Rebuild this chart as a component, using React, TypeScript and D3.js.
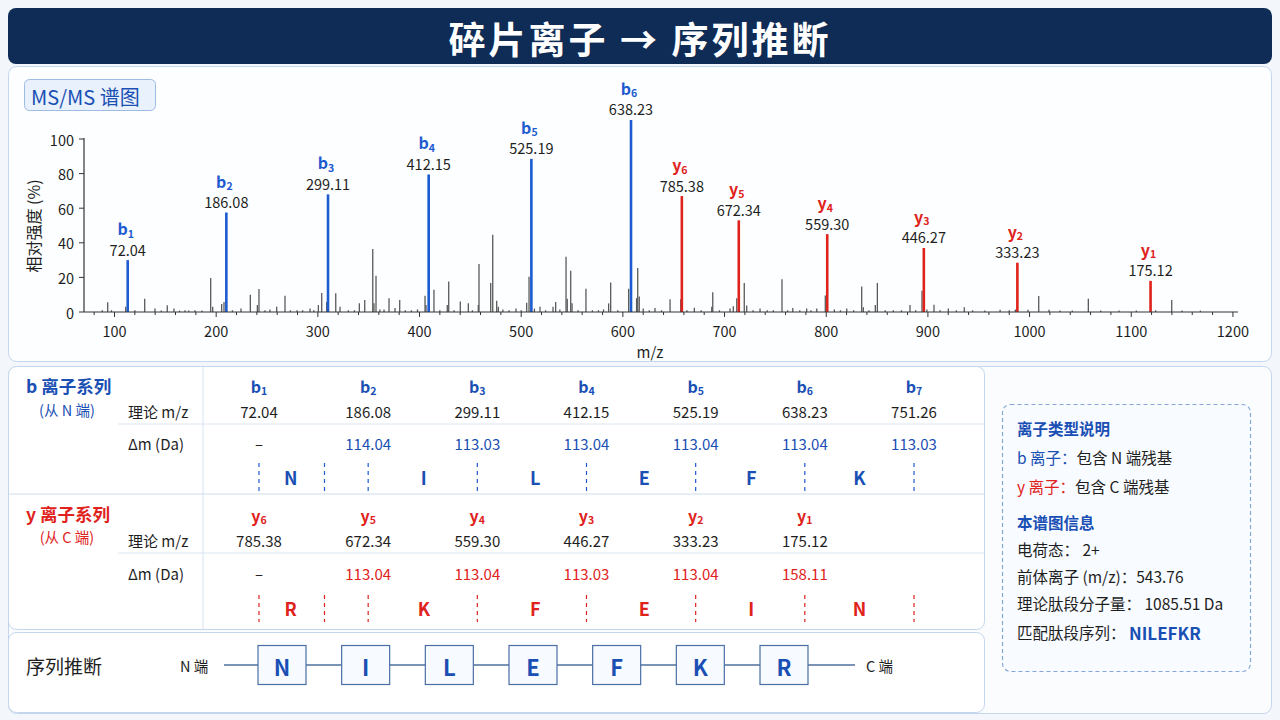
import React from 'react';
import * as d3 from 'd3';

// spectrum: labelled b / y peaks (drawn position, intensity, label)
const bSubs = [1, 2, 3, 4, 5, 6];
const bPeakLabels = ['72.04', '186.08', '299.11', '412.15', '525.19', '638.23'];
const bPeakMz = [113, 210, 310, 409, 510, 608];
const bPeakInt = [30, 57.5, 68, 79.5, 88.5, 111];

const ySubs = [6, 5, 4, 3, 2, 1];
const yPeakLabels = ['785.38', '672.34', '559.30', '446.27', '333.23', '175.12'];
const yPeakMz = [658, 714, 801, 896, 988, 1119];
const yPeakInt = [67, 53, 45, 37, 28.5, 18];

// background (unassigned) peaks [m/z, intensity]
const noisePeaks: [number, number][] = [
  [88, 1], [93.3, 5.6], [97, 1], [111, 3], [120, 1], [129.7, 7.7], [139.8, 2], [146, 0.8],
  [151.9, 3.9], [158.5, 2], [164, 0.8], [169.3, 1], [173, 0.8], [179.2, 1], [186, 0.8],
  [194.6, 19.7], [196.6, 3], [205.4, 4.6], [207.7, 5.8], [216, 1], [224.4, 2], [233.6, 10],
  [240.5, 4], [242.1, 13.3], [248, 1], [252.9, 1.5], [259.5, 3], [267.7, 9.4], [273, 1],
  [279.5, 1], [285, 1], [292.3, 2], [296, 1], [300.5, 4], [303.8, 11], [308.7, 5.8],
  [317.6, 10.8], [321.8, 3], [330, 1], [336, 1], [340.8, 5], [346.1, 7], [354, 36.4],
  [355.2, 5], [357.2, 21], [361, 1.5], [365.1, 1.5], [370, 8], [375.9, 2.3], [380.5, 7],
  [386, 1], [392, 1], [398, 1.5], [405.4, 9.4], [406.4, 4], [414.2, 12.9], [420, 1],
  [427.3, 4], [428.7, 17.7], [434, 1], [440.1, 6], [448, 5], [452, 1], [457.8, 4],
  [458.5, 27.7], [470, 16.8], [472, 44.7], [475.9, 6.5], [477.5, 3], [482, 1.5], [488, 1],
  [494.9, 2], [500, 1], [505.4, 5.4], [507.7, 20.4], [513, 2], [518.5, 3], [524, 1],
  [531.3, 3], [533.9, 5.8], [538, 1.5], [544.1, 32], [545.3, 7.7], [548.7, 23.9], [550, 5],
  [556, 1], [563.7, 13.5], [570, 1], [576, 1], [581, 1.5], [586, 5], [588, 17], [595, 1],
  [605.7, 13.5], [613.5, 8], [614.6, 25.4], [616.1, 9], [620, 2], [626, 1], [631.6, 2.3],
  [638, 1], [646.4, 7.3], [656.9, 7.3], [663, 1], [670.3, 2.5], [677, 1], [687.4, 3],
  [688.4, 11.4], [695, 1], [705.4, 2], [708.6, 3.3], [712, 8], [719.4, 16.8], [721.8, 3.7],
  [728, 1], [734.9, 2], [742, 1], [748, 1], [756.5, 19], [762, 1], [767.1, 2.3], [774, 1],
  [780.8, 2], [785, 1], [790.7, 2], [799.1, 9.6], [800.5, 10], [808, 1.5], [814, 1],
  [820.2, 2], [827, 1], [834.9, 14.8], [836.5, 2.7], [842, 1], [848.3, 4], [850.3, 16.8],
  [858, 1], [866, 1], [874, 1], [882.4, 4], [888, 1], [894.2, 12.3], [899, 1.5], [906, 4.2],
  [912, 1], [920.1, 2], [928, 1], [935.8, 2.7], [944, 1], [956, 0.8], [971, 1.3],
  [980, 1], [986, 1.5], [998.5, 1.3], [1009, 9.2], [1019.1, 1.3], [1030, 0.8],
  [1042, 0.8], [1057.8, 7.7], [1070, 0.8], [1088, 0.8], [1105, 0.8], [1124, 1],
  [1139.8, 7], [1150, 0.8], [1168, 0.8],
];

const xTickValues = d3.range(100, 1201, 100);
const xMinorValues = d3.range(80, 1201, 20).filter((v) => v % 100 !== 0);
const yTickValues = [0, 20, 40, 60, 80, 100];

// table
const bColSubs = [1, 2, 3, 4, 5, 6, 7];
const bTheo = ['72.04', '186.08', '299.11', '412.15', '525.19', '638.23', '751.26'];
const bDelta = ['–', '114.04', '113.03', '113.04', '113.04', '113.04', '113.03'];
const yColSubs = [6, 5, 4, 3, 2, 1];
const yTheo = ['785.38', '672.34', '559.30', '446.27', '333.23', '175.12'];
const yDelta = ['–', '113.04', '113.04', '113.03', '113.04', '158.11'];
const bResidues = ['N', 'I', 'L', 'E', 'F', 'K'];
const yResidues = ['R', 'K', 'F', 'E', 'I', 'N'];
const residueCols = [0.29, 1.51, 2.53, 3.53, 4.51, 5.5];
const dashCols = [0, 0.6, 1, 2, 3, 4, 5, 6];

const sequence = ['N', 'I', 'L', 'E', 'F', 'K', 'R'];

const FONT = '"Noto Sans CJK SC", "Noto Sans", sans-serif';
const BLUE = '#1d5bd0';
const BLUE_TXT = '#1a4fb4';
const RED = '#e0221c';
const DARK = '#1e1e1e';
const BORDER = '#c4d6ec';

const Ion: React.FC<{ x: number; y: number; letter: string; sub: number; color: string; size: number }> = ({
  x, y, letter, sub, color, size,
}) => (
  <text x={x} y={y} textAnchor="middle" fill={color} fontSize={size} fontWeight={700} dominantBaseline="central">
    {letter}
    <tspan fontSize={size * 0.66} dy={size * 0.28}>{sub}</tspan>
  </text>
);

const App: React.FC = () => {
  const x = d3.scaleLinear().domain([70, 1205]).range([84, 1238]);
  const y = d3.scaleLinear().domain([0, 100]).range([312, 139]);
  const col = d3.scaleLinear().domain([0, 6]).range([259, 914]);
  const seqX = d3.scalePoint<string>().domain(sequence.map((_, i) => String(i))).range([282, 784]);

  const peakGroup = (mz: number[], ints: number[], labels: string[], subs: number[], letter: string, color: string) =>
    mz.map((m, i) => {
      const top = y(ints[i]);
      return (
        <g key={letter + i}>
          <line x1={x(m)} x2={x(m)} y1={y(0)} y2={top} stroke={color} strokeWidth={2.6} />
          <text x={x(m)} y={top - 11} textAnchor="middle" fontSize={14.5} fill={DARK} dominantBaseline="central">
            {labels[i]}
          </text>
          <Ion x={x(m) - 2} y={top - 32} letter={letter} sub={subs[i]} color={color} size={16} />
        </g>
      );
    });

  return (
    <div style={{ position: 'absolute', left: 0, top: 0 }}>
      <svg width={1280} height={720} fontFamily={FONT} style={{ display: 'block' }}>
        <rect width={1280} height={720} fill="#f3f6fa" />

        {/* title */}
        <rect x={8} y={8} width={1264} height={56} rx={8} fill="#0e2c55" />
        <text x={640} y={38} textAnchor="middle" dominantBaseline="central" fill="#fff" fontSize={37} fontWeight={700} letterSpacing={3}>
          碎片离子 → 序列推断
        </text>

        {/* spectrum panel */}
        <rect x={8.5} y={66.5} width={1263} height={295} rx={8} fill="#fdfeff" stroke={BORDER} />
        <rect x={24.5} y={79.5} width={131} height={31} rx={5} fill="#e9f1fc" stroke="#9dbbe3" />
        <text x={31} y={96} dominantBaseline="central" fontSize={20} fill={BLUE_TXT}>MS/MS 谱图</text>

        <g>
          {xMinorValues.map((v) => (
            <line key={'m' + v} x1={x(v)} x2={x(v)} y1={312} y2={315} stroke="#333" strokeWidth={1} />
          ))}
          {xTickValues.map((v) => (
            <g key={'x' + v}>
              <line x1={x(v)} x2={x(v)} y1={312} y2={317} stroke="#333" strokeWidth={1} />
              <text x={x(v)} y={330} textAnchor="middle" dominantBaseline="central" fontSize={14.5} fill={DARK}>{v}</text>
            </g>
          ))}
          {yTickValues.map((v) => (
            <g key={'y' + v}>
              <line x1={79} x2={84} y1={y(v)} y2={y(v)} stroke="#333" strokeWidth={1} />
              <text x={74} y={y(v)} textAnchor="end" dominantBaseline="central" fontSize={14.5} fill={DARK}>{v}</text>
            </g>
          ))}
          <text x={650} y={351} textAnchor="middle" dominantBaseline="central" fontSize={15} fill={DARK}>m/z</text>
          <text transform={`translate(33,${226}) rotate(-90)`} textAnchor="middle" dominantBaseline="central" fontSize={16} fill={DARK}>
            相对强度 (%)
          </text>

          {noisePeaks.map(([m, v], i) => (
            <line key={'n' + i} x1={x(m)} x2={x(m)} y1={y(0)} y2={y(v)} stroke="#5a5a5a" strokeWidth={1.3} />
          ))}
          {peakGroup(bPeakMz, bPeakInt, bPeakLabels, bSubs, 'b', BLUE)}
          {peakGroup(yPeakMz, yPeakInt, yPeakLabels, ySubs, 'y', RED)}
          <line x1={84} x2={84} y1={y(100) - 1} y2={312} stroke="#333" strokeWidth={1.2} />
          <line x1={84} x2={1238} y1={312} y2={312} stroke="#333" strokeWidth={1.2} />
        </g>

        {/* lower area */}
        <rect x={8.5} y={366.5} width={1263} height={347} rx={8} fill="#fbfcfe" stroke={BORDER} />
        <rect x={8.5} y={366.5} width={976} height={263} rx={8} fill="#fff" stroke={BORDER} />
        <rect x={8.5} y={632.5} width={976} height={80} rx={8} fill="#fff" stroke={BORDER} />

        {/* table grid */}
        <line x1={203} x2={203} y1={367} y2={630} stroke="#d5e2f1" />
        <line x1={9} x2={984} y1={494} y2={494} stroke="#cddcee" />
        <line x1={118} x2={984} y1={424} y2={424} stroke="#dbe6f3" />
        <line x1={118} x2={984} y1={553} y2={553} stroke="#dbe6f3" />

        {/* b series */}
        <text x={26} y={385} dominantBaseline="central" fontSize={17.5} fontWeight={700} fill={BLUE_TXT}>b 离子系列</text>
        <text x={67} y={409} textAnchor="middle" dominantBaseline="central" fontSize={14.5} fill={BLUE_TXT}>(从 N 端)</text>
        <text x={128} y={411} dominantBaseline="central" fontSize={15} fill={DARK}>理论 m/z</text>
        <text x={128} y={443} dominantBaseline="central" fontSize={15} fill={DARK}>Δm (Da)</text>
        {bColSubs.map((s, i) => (
          <g key={'bc' + i}>
            <Ion x={col(i)} y={386} letter="b" sub={s} color={BLUE_TXT} size={16} />
            <text x={col(i)} y={411} textAnchor="middle" dominantBaseline="central" fontSize={15} fill={DARK}>{bTheo[i]}</text>
            <text x={col(i)} y={443} textAnchor="middle" dominantBaseline="central" fontSize={15} fill={i === 0 ? DARK : BLUE_TXT}>{bDelta[i]}</text>
          </g>
        ))}
        {dashCols.map((c, i) => (
          <line key={'bd' + i} x1={col(c)} x2={col(c)} y1={463} y2={493} stroke={BLUE} strokeWidth={1.2} strokeDasharray="4 4" />
        ))}
        {bResidues.map((r, i) => (
          <text key={'br' + i} x={col(residueCols[i])} y={477} textAnchor="middle" dominantBaseline="central" fontSize={18} fontWeight={700} fill={BLUE_TXT}>{r}</text>
        ))}

        {/* y series */}
        <text x={26} y={513} dominantBaseline="central" fontSize={17.5} fontWeight={700} fill={RED}>y 离子系列</text>
        <text x={67} y={536} textAnchor="middle" dominantBaseline="central" fontSize={14.5} fill={RED}>(从 C 端)</text>
        <text x={128} y={540} dominantBaseline="central" fontSize={15} fill={DARK}>理论 m/z</text>
        <text x={128} y={573} dominantBaseline="central" fontSize={15} fill={DARK}>Δm (Da)</text>
        {yColSubs.map((s, i) => (
          <g key={'yc' + i}>
            <Ion x={col(i)} y={515} letter="y" sub={s} color={RED} size={16} />
            <text x={col(i)} y={540} textAnchor="middle" dominantBaseline="central" fontSize={15} fill={DARK}>{yTheo[i]}</text>
            <text x={col(i)} y={573} textAnchor="middle" dominantBaseline="central" fontSize={15} fill={i === 0 ? DARK : RED}>{yDelta[i]}</text>
          </g>
        ))}
        {dashCols.map((c, i) => (
          <line key={'yd' + i} x1={col(c)} x2={col(c)} y1={595} y2={622} stroke={RED} strokeWidth={1.2} strokeDasharray="4 4" />
        ))}
        {yResidues.map((r, i) => (
          <text key={'yr' + i} x={col(residueCols[i])} y={608} textAnchor="middle" dominantBaseline="central" fontSize={18} fontWeight={700} fill={RED}>{r}</text>
        ))}

        {/* sequence inference */}
        <text x={26} y={665} dominantBaseline="central" fontSize={19} fill={DARK}>序列推断</text>
        <text x={180} y={665} dominantBaseline="central" fontSize={14.5} fill={DARK}>N 端</text>
        <text x={866} y={665} dominantBaseline="central" fontSize={14.5} fill={DARK}>C 端</text>
        <line x1={224} x2={855} y1={665} y2={665} stroke="#4f6f9c" strokeWidth={1.5} />
        {sequence.map((r, i) => {
          const cx = seqX(String(i)) as number;
          return (
            <g key={'s' + i}>
              <rect x={cx - 24} y={645.5} width={48} height={39} fill="#f7faff" stroke="#4a6fa5" strokeWidth={1.2} />
              <text x={cx} y={666} textAnchor="middle" dominantBaseline="central" fontSize={22} fontWeight={700} fill={BLUE_TXT}>{r}</text>
            </g>
          );
        })}

        {/* info box */}
        <rect x={1002.5} y={404.5} width={248} height={267} rx={8} fill="#f8fbff" stroke="#86a8d8" strokeWidth={1.2} strokeDasharray="4 3" />
        <g fontSize={15.5} fill={DARK}>
          <text x={1017} y={428} dominantBaseline="central" fontWeight={700} fill={BLUE_TXT}>离子类型说明</text>
          <text x={1017} y={457} dominantBaseline="central">
            <tspan fill={BLUE_TXT}>b 离子：</tspan>包含 N 端残基
          </text>
          <text x={1017} y={486} dominantBaseline="central">
            <tspan fill={RED}>y 离子：</tspan>包含 C 端残基
          </text>
          <text x={1017} y={522} dominantBaseline="central" fontWeight={700} fill={BLUE_TXT}>本谱图信息</text>
          <text x={1017} y={549} dominantBaseline="central">电荷态： 2+</text>
          <text x={1017} y={576} dominantBaseline="central">前体离子 (m/z)：543.76</text>
          <text x={1017} y={603} dominantBaseline="central">理论肽段分子量： 1085.51 Da</text>
          <text x={1017} y={632} dominantBaseline="central">
            匹配肽段序列： <tspan fill={BLUE_TXT} fontWeight={700} fontSize={17}>NILEFKR</tspan>
          </text>
        </g>
      </svg>
    </div>
  );
};

export default App;
